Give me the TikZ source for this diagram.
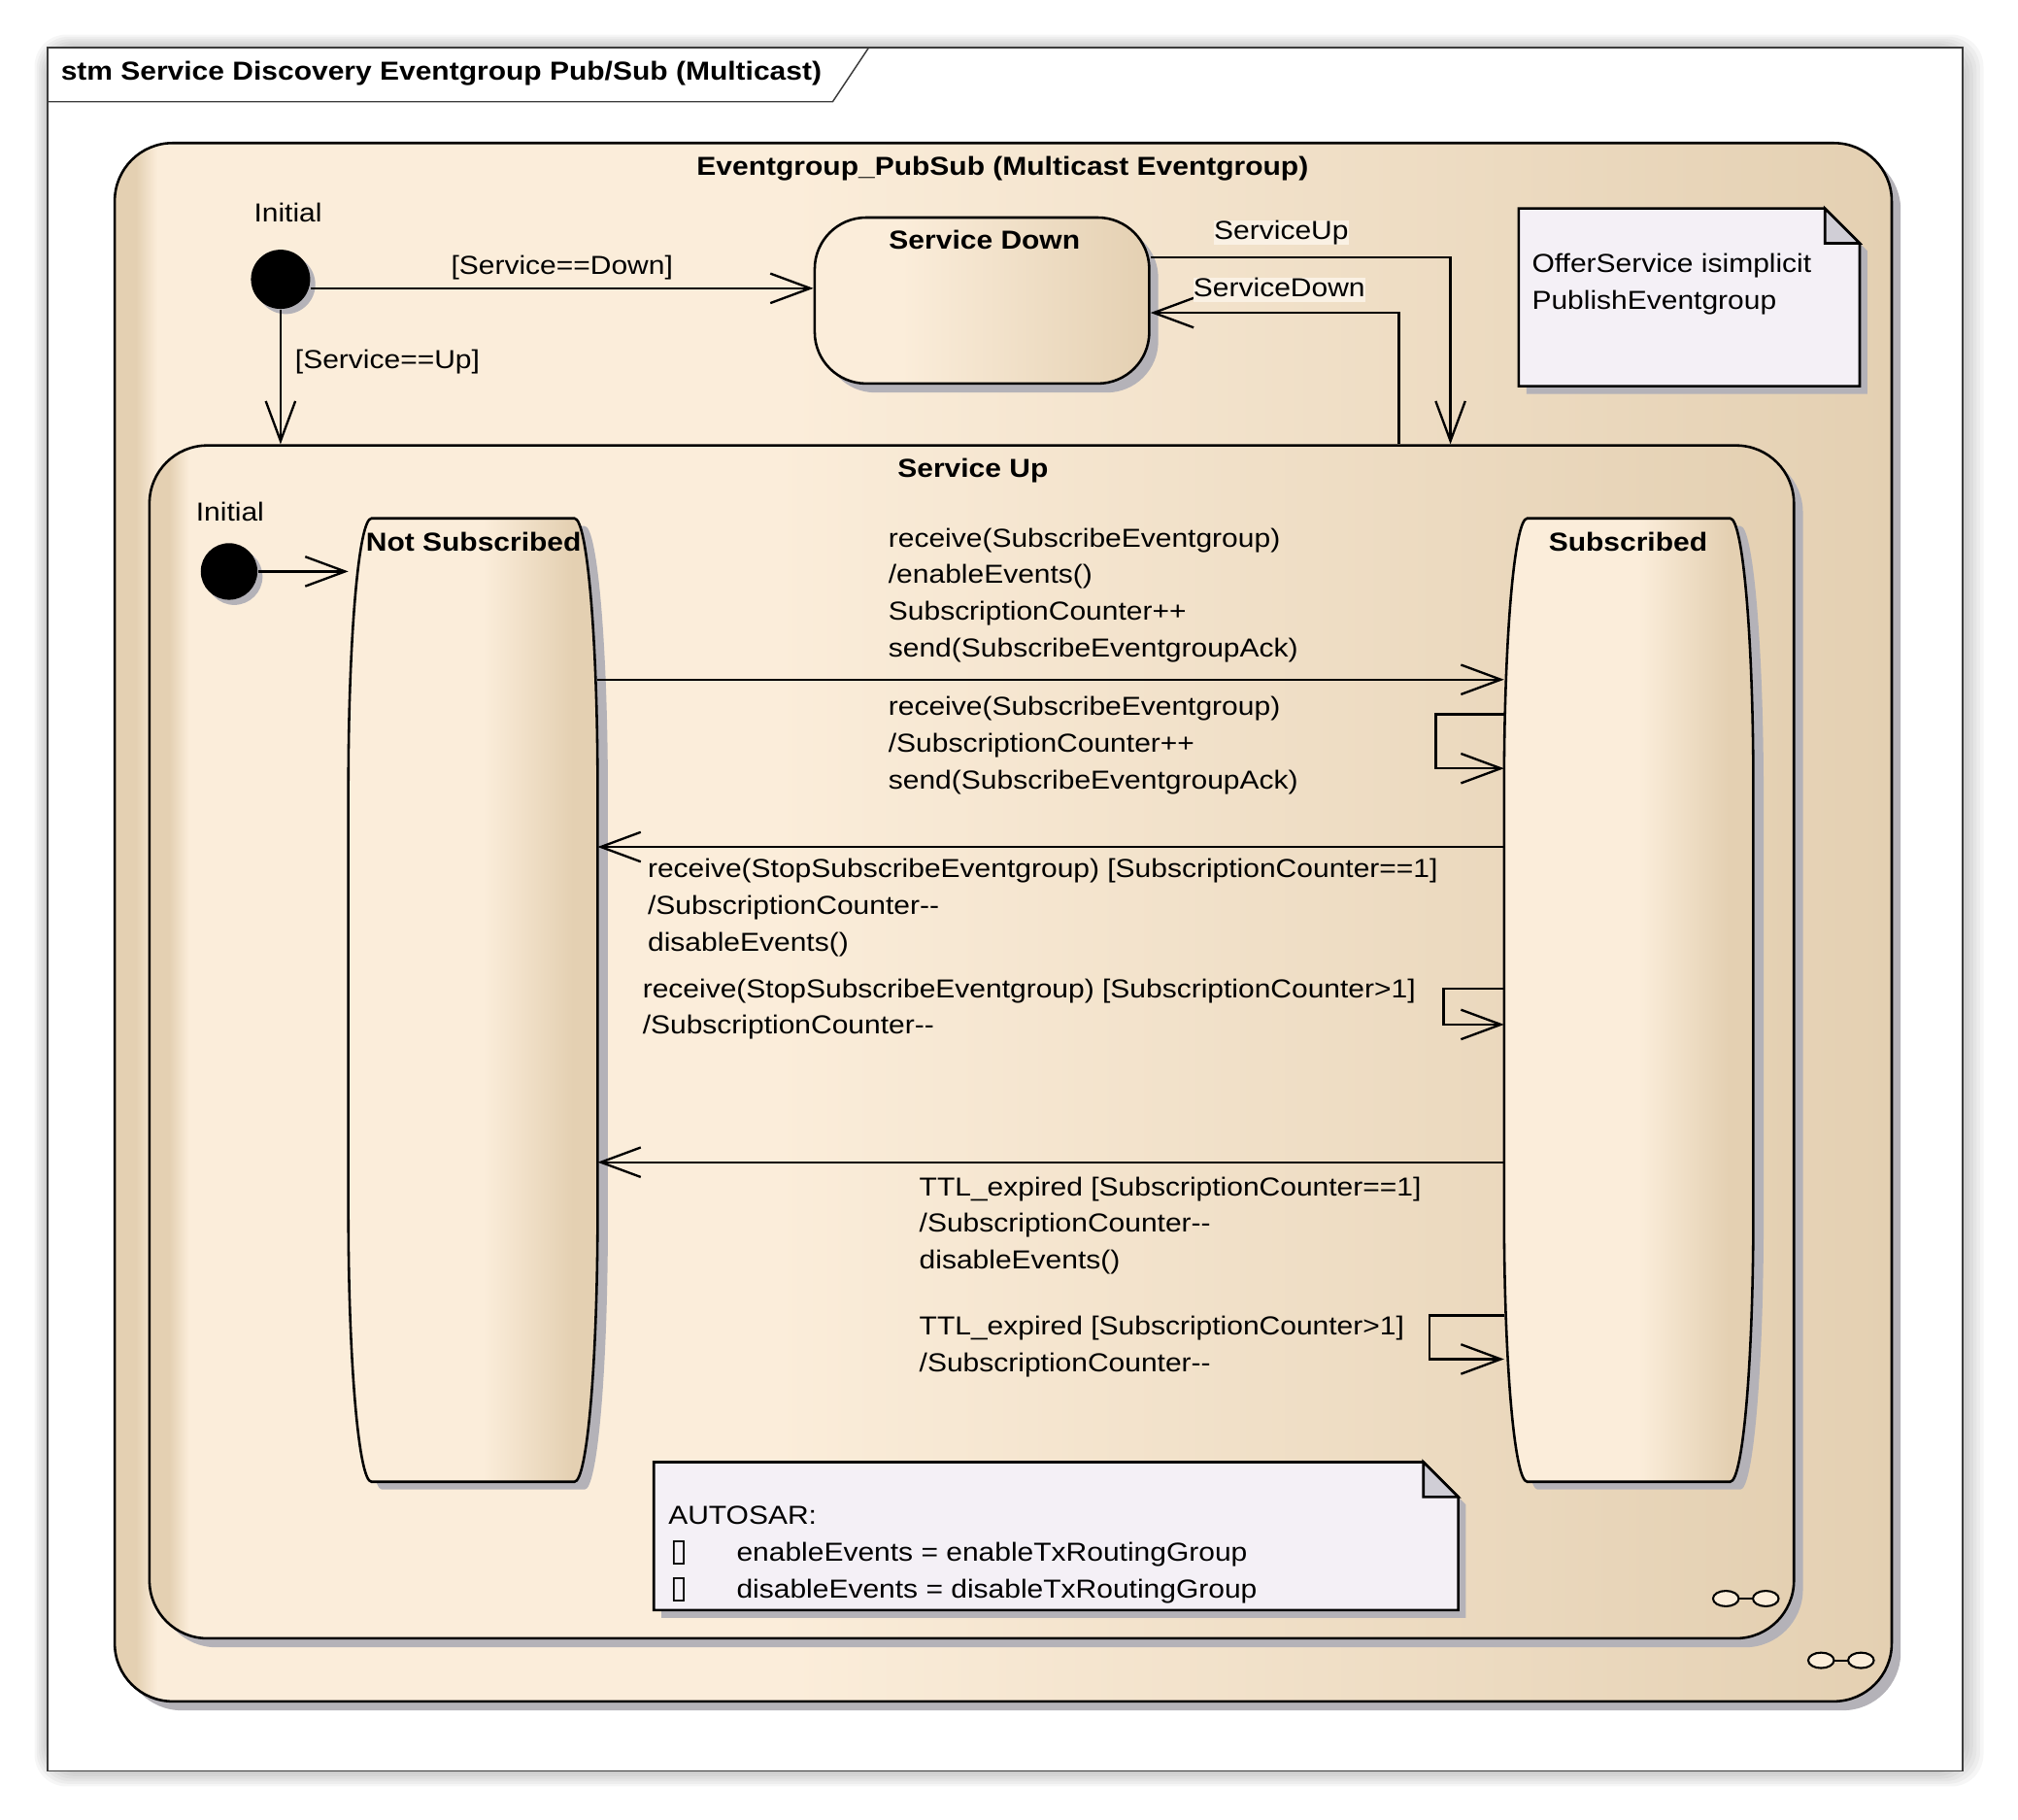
\documentclass[tikz,border=0pt]{standalone}
\usepackage{fontspec}
\setmainfont{Liberation Sans}[FakeStretch=1.12]
\newfontfamily\boxfont{DejaVu Sans}
\usetikzlibrary{arrows.meta,calc,shadows}

\definecolor{stLight}{RGB}{251,237,218}
\definecolor{stDark}{RGB}{228,208,178}
\definecolor{shadowGray}{RGB}{180,178,184}
\definecolor{noteFill}{RGB}{244,240,246}
\definecolor{foldFill}{RGB}{208,206,214}
\definecolor{lblFill}{RGB}{250,241,228}
\definecolor{frameLine}{RGB}{60,60,60}

\pgfdeclarehorizontalshading{compshade}{100bp}{color(0bp)=(stDark); color(25bp)=(stDark); color(25.6bp)=(stDark); color(26.2bp)=(stLight); color(44bp)=(stLight); color(75bp)=(stDark); color(100bp)=(stDark)}
\pgfdeclarehorizontalshading{simpleshade}{100bp}{color(0bp)=(stLight); color(25bp)=(stLight); color(38bp)=(stLight); color(75bp)=(stDark); color(100bp)=(stDark)}
\pgfdeclarehorizontalshading{tallshade}{100bp}{color(0bp)=(stLight); color(25bp)=(stLight); color(52bp)=(stLight); color(70bp)=(stDark); color(100bp)=(stDark)}

% outline of a tall state, elliptic corners
\newcommand\tallstate[1]{%
  \path[tallline] ($(#1.north west)+(0.36cm,0)$) -- ($(#1.north east)+(-0.36cm,0)$)
    .. controls ($(#1.north east)+(-0.16cm,0)$) and ($(#1.north east)+(0,-1.88cm)$) .. ($(#1.north east)+(0,-4.2cm)$)
    -- ($(#1.south east)+(0,4.2cm)$)
    .. controls ($(#1.south east)+(0,1.88cm)$) and ($(#1.south east)+(-0.16cm,0)$) .. ($(#1.south east)+(-0.36cm,0)$)
    -- ($(#1.south west)+(0.36cm,0)$)
    .. controls ($(#1.south west)+(0.16cm,0)$) and ($(#1.south west)+(0,1.88cm)$) .. ($(#1.south west)+(0,4.2cm)$)
    -- ($(#1.north west)+(0,-4.2cm)$)
    .. controls ($(#1.north west)+(0,-1.88cm)$) and ($(#1.north west)+(0.16cm,0)$) .. ($(#1.north west)+(0.36cm,0)$)
    -- cycle;}

\begin{document}
\begin{tikzpicture}[
      x=0.02cm, y=-0.02cm,
      >={Straight Barb[length=0.62cm,width=0.46cm]},
      txt/.style={font=\fontsize{11.5}{16.2}\selectfont, inner sep=0pt},
      lbl/.style={txt, anchor=west, text height=8.3pt, text depth=2.4pt},
      guard/.style={txt, anchor=north west, align=left},
      heading/.style={lbl, anchor=center, font=\fontsize{11.5}{16.2}\selectfont\bfseries},
      compstate/.style={
          rectangle,
          rounded corners=0.9cm,
          draw,
          line width=1.1pt,
          inner sep=0pt,
          shading=compshade,
          drop shadow={shadow xshift=0.14cm, shadow yshift=-0.14cm, fill=shadowGray, opacity=1}
        },
      simplestate/.style={
          rectangle,
          rounded corners=0.8cm,
          draw,
          line width=1.1pt,
          inner sep=0pt,
          shading=simpleshade,
          drop shadow={shadow xshift=0.14cm, shadow yshift=-0.14cm, fill=shadowGray, opacity=1}
        },
      tallspot/.style={rectangle, inner sep=0pt},
      tallline/.style={draw, line width=1.1pt, shading=tallshade,
          drop shadow={shadow xshift=0.16cm, shadow yshift=-0.12cm, fill=shadowGray, opacity=1}},
      noteline/.style={draw, line width=1.1pt, fill=noteFill,
          drop shadow={shadow xshift=0.12cm, shadow yshift=-0.12cm, fill=shadowGray, opacity=1}},
      foldline/.style={draw, line width=1.1pt, fill=foldFill},
      initial/.style={circle, fill=black, inner sep=0pt,
          drop shadow={shadow xshift=0.08cm, shadow yshift=-0.08cm, fill=shadowGray, opacity=1}},
      trans/.style={->, line width=1pt},
      icon/.style={draw, line width=0.9pt, fill=stLight}
    ]
    \useasboundingbox (0,0) rectangle (1568,1414);

    % paper and frame
    \foreach \s in {1,...,6}
      \fill[black, opacity=0.035, rounded corners=0.5cm]
        ({37-1.7*\s},{37-1.7*\s}) rectangle ({1525+2.7*\s},{1376+2*\s});
    \fill[white] (37,37) rectangle (1525,1376);
    \draw[frameLine, line width=0.6pt] (37,37) rectangle (1525,1376);
    \draw[frameLine, line width=0.6pt] (37,79) -- (647,79) -- (675,37);
    \node[heading, anchor=west] (frametitle) at (47,57) {stm Service Discovery Eventgroup Pub/Sub (Multicast)};

    % outer composite state
    \node[compstate, minimum width=27.62cm, minimum height=24.22cm] (pubsub) at (779.5,716.5) {};
    \node[heading] (pubsubname) at (779,131) {Eventgroup\_PubSub (Multicast Eventgroup)};
    \draw[icon] (1415,1290) ellipse[x radius=10, y radius=6] (1446,1290) ellipse[x radius=10, y radius=6];
    \draw[line width=0.9pt] (1425,1290) -- (1436,1290);

    \node[lbl] (initlbl1) at (197,167) {Initial};
    \node[initial, minimum size=0.92cm] (init1) at (218,217) {};

    \node[simplestate, minimum width=5.2cm, minimum height=2.58cm] (down) at (763,233.5) {};
    \node[heading] (downname) at (765,188) {Service Down};

    % note
    \draw[noteline] (1180,162) -- (1418,162) -- (1445,189) -- (1445,300) -- (1180,300) -- cycle;
    \draw[foldline] (1418,162) -- (1418,189) -- (1445,189) -- cycle;
    \node[guard] (offertext) at (1190,197) {OfferService isimplicit\\PublishEventgroup};

    % inner composite state
    \node[compstate, minimum width=25.56cm, minimum height=18.54cm] (up) at (755,809.5) {};
    \node[heading] (upname) at (756,366) {Service Up};
    \draw[icon] (1341,1242) ellipse[x radius=10, y radius=6] (1372,1242) ellipse[x radius=10, y radius=6];
    \draw[line width=0.9pt] (1351,1242) -- (1362,1242);

    % transitions of the outer state
    \draw[trans] ([yshift=-0.14cm]init1.east) --
    node[lbl, anchor=center, above=0.12cm] (gdown) {[Service==Down]}
    ([yshift=-0.14cm]init1.east -| down.west);
    \draw[trans] (init1.south) -- (init1.south |- up.north);
    \node[lbl] (gup) at (229,281) {[Service==Up]};
    \draw[trans] (down.east |- 0,200) -| (up.north -| 1127,0);
    \node[lbl, fill=lblFill] (evup) at (943,181) {ServiceUp};
    \draw[trans] (up.north -| 1087,0) |- (down.east |- 0,243);
    \node[lbl, fill=lblFill] (evdown) at (927,225) {ServiceDown};

    % substates
    \node[lbl] (initlbl2) at (152,400) {Initial};
    \node[initial, minimum size=0.88cm] (init2) at (178,444) {};

    \node[tallspot, minimum width=3.86cm, minimum height=14.96cm] (notsub) at (367.5,777) {};
    \tallstate{notsub}
    \node[heading] (notsubname) at (368,423) {Not Subscribed};

    \node[tallspot, minimum width=3.86cm, minimum height=14.96cm] (subd) at (1265.5,777) {};
    \tallstate{subd}
    \node[heading] (subdname) at (1265,423) {Subscribed};

    \draw[trans] (init2.east) -- (init2 -| notsub.west);

    % subscribe
    \draw[trans] (notsub.east |- 0,528) -- (subd.west |- 0,528);
    \node[guard] (subscribe) at (690,410) {receive(SubscribeEventgroup)\\/enableEvents()\\SubscriptionCounter++\\send(SubscribeEventgroupAck)};
    \draw[trans] (subd.west |- 0,555) -- ++(-53,0) -- ++(0,42) -- (subd.west |- 0,597);
    \node[guard] (resubscribe) at (690,541) {receive(SubscribeEventgroup)\\/SubscriptionCounter++\\send(SubscribeEventgroupAck)};

    % stop subscribe
    \draw[trans] (subd.west |- 0,658) -- (notsub.east |- 0,658);
    \node[guard] (stoplast) at (503,667) {receive(StopSubscribeEventgroup) [SubscriptionCounter==1]\\/SubscriptionCounter-{}-\\disableEvents()};
    \draw[trans] (subd.west |- 0,768) -- ++(-47,0) -- ++(0,28) -- (subd.west |- 0,796);
    \node[guard] (stopmore) at (499,760) {receive(StopSubscribeEventgroup) [SubscriptionCounter>1]\\/SubscriptionCounter-{}-};

    % ttl
    \draw[trans] (subd.west |- 0,903) -- (notsub.east |- 0,903);
    \node[guard] (ttllast) at (714,914) {TTL\_expired [SubscriptionCounter==1]\\/SubscriptionCounter-{}-\\disableEvents()};
    \draw[trans] (subd.west |- 0,1022) -- ++(-58,0) -- ++(0,34) -- (subd.west |- 0,1056);
    \node[guard] (ttlmore) at (714,1022) {TTL\_expired [SubscriptionCounter>1]\\/SubscriptionCounter-{}-};

    % note
    \draw[noteline] (508,1136) -- (1106,1136) -- (1133,1163) -- (1133,1251) -- (508,1251) -- cycle;
    \draw[foldline] (1106,1136) -- (1106,1163) -- (1133,1163) -- cycle;
    \node[guard] (autosartext) at (519,1170) {AUTOSAR:\\\makebox[1.06cm][l]{\hspace{0.04cm}{\boxfont\fontsize{14}{14}\selectfont ▯}}enableEvents = enableTxRoutingGroup\\\makebox[1.06cm][l]{\hspace{0.04cm}{\boxfont\fontsize{14}{14}\selectfont ▯}}disableEvents = disableTxRoutingGroup};
  \end{tikzpicture}
\end{document}
